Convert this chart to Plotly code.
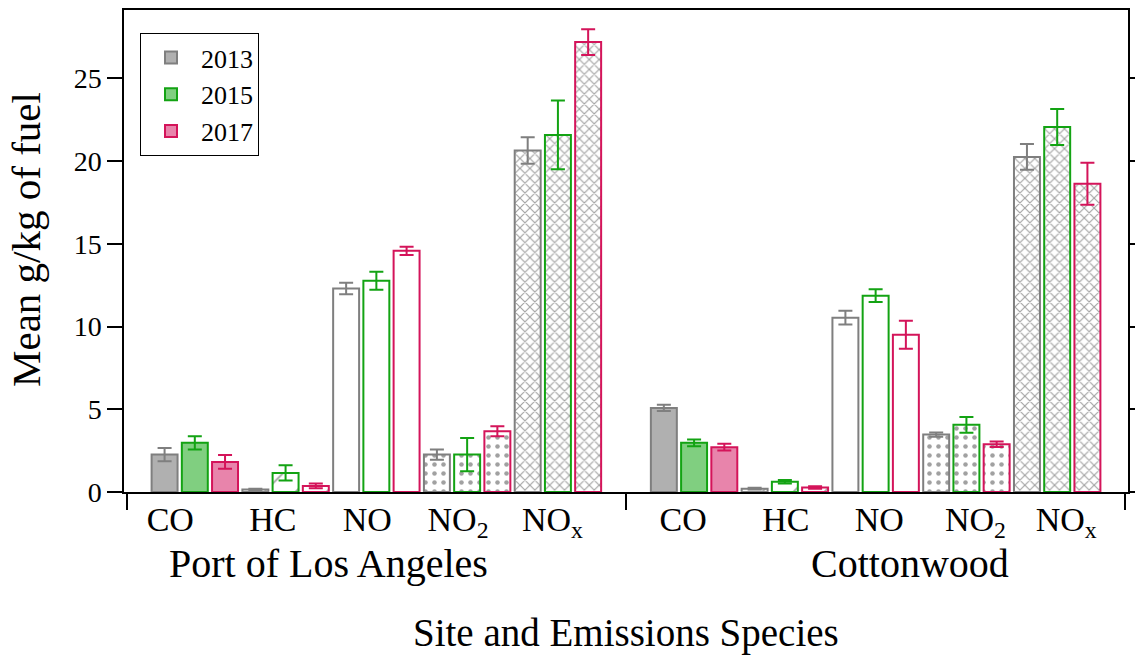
import plotly.graph_objects as go

# Emission factors (mean g/kg of fuel) with error half-widths
species = ["CO", "HC", "NO", "NO<sub>2</sub>", "NO<sub>x</sub>"]
sites = ["Port of Los Angeles", "Cottonwood"]
years = ["2013", "2015", "2017"]

mean_2013 = [2.26, 0.15, 12.3, 2.26, 20.64, 5.08, 0.2, 10.54, 3.47, 20.26]
err_2013 = [0.40, 0.05, 0.35, 0.31, 0.80, 0.19, 0.05, 0.42, 0.13, 0.78]
mean_2015 = [2.97, 1.15, 12.77, 2.26, 21.59, 2.97, 0.62, 11.87, 4.06, 22.07]
err_2015 = [0.40, 0.46, 0.55, 1.0, 2.08, 0.20, 0.10, 0.38, 0.48, 1.09]
mean_2017 = [1.82, 0.37, 14.58, 3.67, 27.2, 2.71, 0.27, 9.51, 2.89, 18.63]
err_2017 = [0.41, 0.15, 0.25, 0.30, 0.78, 0.20, 0.08, 0.85, 0.17, 1.27]

means = [mean_2013, mean_2015, mean_2017]
errs = [err_2013, err_2015, err_2017]

line_colors = ["#7f7f7f", "#13a313", "#d4145a"]
fill_colors = ["#b0b0b0", "#80cf80", "#e884ab"]

# group centres: five species per site, half-group gap between sites
site_gap = 1.5
centers = [i for i in range(5)] + [i + 4 + site_gap for i in range(5)]
offsets = [-0.333, 0.0, 0.333]
bar_w = 0.286

# species label positions along the axis (slightly left of group centres)
label_pos = [-0.27, 0.86, 1.9, 2.9, 3.94, 5.38, 6.51, 7.54, 8.6, 9.6]

# fill style per species: solid, diagonal, empty, dashes, zigzag
shapes = ["", "/", "", ".", "x"]
sizes = [8, 22, 8, 9, 7]
solid = [0.3, 0.08, 0.3, 0.2, 0.3]

FONT = "Times New Roman, Liberation Serif, Tinos, serif"

fig = go.Figure()
for k, yr in enumerate(years):
    fills = [fill_colors[k] if i % 5 == 0 else "white" for i in range(10)]
    fig.add_trace(go.Bar(
        x=[c + offsets[k] for c in centers],
        y=means[k],
        width=bar_w,
        name=yr,
        marker=dict(
            color=fills,
            line=dict(color=line_colors[k], width=2),
            pattern=dict(
                shape=[shapes[i % 5] for i in range(10)],
                size=[sizes[i % 5] for i in range(10)],
                solidity=[solid[i % 5] for i in range(10)],
                fgcolor=line_colors[k],
                fillmode="overlay",
            ),
        ),
        error_y=dict(type="data", array=errs[k], color=line_colors[k],
                     thickness=2, width=7),
    ))

x_range = [-0.78, 10.28]
boundaries = [-0.75, 4 + site_gap / 2, 10.25]

# pixel geometry of the plot area
L, R, T, B = 124, 7, 10, 163
PW, PH = 1135 - L - R, 655 - T - B


def px_x(p):
    return (p - L) / PW


def px_y(p):
    return (655 - B - p) / PH


fig.update_layout(
    width=1135, height=655,
    margin=dict(l=L, r=R, t=T, b=B, autoexpand=False),
    plot_bgcolor="white", paper_bgcolor="white",
    font=dict(family=FONT, color="black"),
    barmode="overlay",
    showlegend=True,
    legend=dict(
        x=px_x(140), y=px_y(33), xanchor="left", yanchor="top",
        bordercolor="black", borderwidth=1,
        font=dict(family=FONT, size=26),
        itemwidth=50, tracegroupgap=0,
    ),
    xaxis=dict(
        range=x_range, automargin=False,
        tickvals=label_pos,
        ticktext=species * 2,
        ticks="", ticklen=0, ticklabelstandoff=-4,
        tickfont=dict(family=FONT, size=34),
        showline=True, linecolor="black", linewidth=2, mirror=True,
        showgrid=False, zeroline=False,
    ),
    xaxis2=dict(
        range=x_range, overlaying="x", side="bottom", automargin=False,
        tickvals=boundaries, ticks="outside", ticklen=17, tickwidth=1.5,
        tickcolor="black", showticklabels=False, showgrid=False,
        zeroline=False, showline=False,
    ),
    yaxis=dict(
        range=[0, 29.14], automargin=False,
        tickvals=[0, 5, 10, 15, 20, 25],
        ticks="outside", ticklen=15, tickwidth=1.5, tickcolor="black",
        tickfont=dict(family=FONT, size=28),
        showline=True, linecolor="black", linewidth=1.5, mirror="ticks",
        showgrid=False, zeroline=False,
    ),
    annotations=[
        dict(text=sites[0], x=1.475, y=px_y(563), xref="x", yref="paper",
             showarrow=False, xanchor="center", yanchor="middle",
             font=dict(family=FONT, size=40)),
        dict(text=sites[1], x=7.88, y=px_y(563), xref="x", yref="paper",
             showarrow=False, xanchor="center", yanchor="middle",
             font=dict(family=FONT, size=40)),
        dict(text="Site and Emissions Species", x=px_x(626), y=px_y(633),
             xref="paper", yref="paper", showarrow=False,
             xanchor="center", yanchor="middle",
             font=dict(family=FONT, size=39)),
        dict(text="Mean g/kg of fuel", x=px_x(26), y=px_y(240),
             xref="paper", yref="paper", showarrow=False, textangle=-90,
             xanchor="center", yanchor="middle",
             font=dict(family=FONT, size=41)),
    ],
)

# invisible point that carries the boundary ticks on xaxis2
fig.add_trace(go.Scatter(x=[x_range[0]], y=[0], xaxis="x2", mode="markers",
                         marker=dict(opacity=0), showlegend=False,
                         hoverinfo="skip"))

fig.write_html("out.html")
